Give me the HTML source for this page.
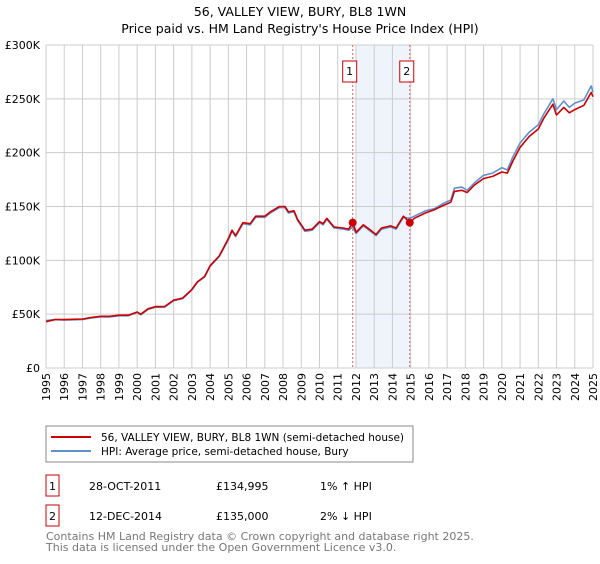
<!DOCTYPE html>
<html><head><meta charset="utf-8"><style>
body{margin:0;background:#fff;font-family:"DejaVu Sans","Liberation Sans",sans-serif;}
svg text{font-family:"DejaVu Sans","Liberation Sans",sans-serif;}
</style></head><body>
<svg id="chart" width="600" height="560" viewBox="0 0 600 560">
<text x="300" y="16" text-anchor="middle" font-size="12.5" fill="#000">56, VALLEY VIEW, BURY, BL8 1WN</text>
<text x="300" y="33" text-anchor="middle" font-size="12.5" fill="#000">Price paid vs. HM Land Registry's House Price Index (HPI)</text>
<g id="grid"></g>
<g id="series"></g>
<g id="legend">
<rect x="46" y="426" width="367" height="36" fill="#fff" stroke="#888"/>
<line x1="51" y1="437" x2="91" y2="437" stroke="#cc0000" stroke-width="2"/>
<text x="101" y="441" font-size="10.5">56, VALLEY VIEW, BURY, BL8 1WN (semi-detached house)</text>
<line x1="51" y1="451" x2="91" y2="451" stroke="#6090d0" stroke-width="2"/>
<text x="101" y="455" font-size="10.5">HPI: Average price, semi-detached house, Bury</text>
</g>
<g font-size="11">
<rect x="46" y="475" width="13" height="21" fill="#fff" stroke="#cc0000"/>
<text x="52.5" y="490" text-anchor="middle">1</text>
<text x="89" y="490">28-OCT-2011</text>
<text x="216" y="490">£134,995</text>
<text x="320" y="490">1% ↑ HPI</text>
<rect x="46" y="505" width="13" height="21" fill="#fff" stroke="#cc0000"/>
<text x="52.5" y="520" text-anchor="middle">2</text>
<text x="89" y="520">12-DEC-2014</text>
<text x="216" y="520">£135,000</text>
<text x="320" y="520">2% ↓ HPI</text>
</g>
<text x="46" y="540" font-size="11" fill="#777">Contains HM Land Registry data © Crown copyright and database right 2025.</text>
<text x="46" y="551" font-size="11" fill="#777">This data is licensed under the Open Government Licence v3.0.</text>
</svg>
<script>
const yTicks=[0,50,100,150,200,250,300];
const yTickLabels=["£0","£50K","£100K","£150K","£200K","£250K","£300K"];
const xYears=[1995,1996,1997,1998,1999,2000,2001,2002,2003,2004,2005,2006,2007,2008,2009,2010,2011,2012,2013,2014,2015,2016,2017,2018,2019,2020,2021,2022,2023,2024,2025];
const propDates=[1995.0,1995.5,1996,1997,1997.5,1998,1998.5,1999,1999.5,2000,2000.2,2000.6,2001,2001.5,2002,2002.5,2003,2003.3,2003.7,2004,2004.5,2005,2005.2,2005.4,2005.8,2006.2,2006.5,2007,2007.3,2007.8,2008.1,2008.3,2008.6,2008.8,2009.2,2009.6,2010,2010.2,2010.4,2010.8,2011.3,2011.6,2011.82,2012.0,2012.4,2012.8,2013.1,2013.4,2013.9,2014.2,2014.6,2014.95,2015.2,2015.8,2016.3,2016.8,2017.2,2017.4,2017.8,2018.1,2018.5,2019,2019.5,2020,2020.3,2020.6,2021,2021.5,2022,2022.3,2022.8,2023.0,2023.4,2023.7,2024,2024.5,2024.9,2025];
const propValues=[43,45,45,45.5,47,48,48,49,49,52,50,55,57,57,63,65,73,80,85,95,104,120,128,123,135,134,141,141,145,150,150,145,146,138,128,129,136,134,139,131,130,129,135,126,133,128,124,130,132,130,141,135,139,144,147,151,154,164,165,163,170,176,178,182,181,192,205,215,222,232,245,235,242,237,240,244,256,252];
const hpiValues=[44,45,44.5,45,46.5,47.5,47.5,48.5,48.5,51.5,49.5,54.5,56.5,56.5,62.5,64.5,72.5,79.5,84.5,94.5,103.5,119,127,122,134,133,140,140,144,149,149,144,145,137,127,128,135,133,138,130,129,128,131,125,132,127,123,129,131,129,140,139,141,146,148,153,156,167,168,165,172,179,181,186,184,196,209,219,226,236,250,240,248,242,246,249,262,256];
const sales=[{d:2011.82,v:134.995},{d:2014.95,v:135}];
const X0=46,X1=593,Y0=368,Y1=45;
const xs=y=>X0+(y-1995)/(2025-1995)*(X1-X0);
const ys=v=>Y0-v/300*(Y0-Y1);
const NS="http://www.w3.org/2000/svg";
function mk(tag,at,parent){const e=document.createElementNS(NS,tag);for(const k in at)e.setAttribute(k,at[k]);parent.appendChild(e);return e;}
const grid=document.getElementById('grid'),ser=document.getElementById('series');
const shade=mk('rect',{x:xs(sales[0].d)+3,y:Y1,width:xs(sales[1].d)-xs(sales[0].d)-3,height:Y0-Y1,fill:'#eef3fc'},grid);


xYears.forEach(yr=>{
 const l=mk('line',{x1:xs(yr),x2:xs(yr),y1:Y1,y2:Y0,stroke:'#ccc','stroke-width':1},grid);
 
 
 const t=mk('text',{x:0,y:0,'font-size':11,'text-anchor':'end',transform:`translate(${xs(yr)+4},${Y0+5}) rotate(-90)`},grid);
 t.textContent=yr;
 
 
});
yTicks.forEach((v,i)=>{
 const l=mk('line',{x1:X0,x2:X1,y1:ys(v),y2:ys(v),stroke:'#ccc','stroke-width':1},grid);
 
 
 const t=mk('text',{x:X0-6,y:ys(v)+4,'font-size':11,'text-anchor':'end'},grid);
 t.textContent=yTickLabels[i];
 
 
});
sales.forEach((s,i)=>{
 const l=mk('line',{x1:xs(s.d),x2:xs(s.d),y1:Y1,y2:Y0,stroke:'#e06060','stroke-width':1,'stroke-dasharray':'2,2'},grid);
 
 
 const r=mk('rect',{x:xs(s.d)-10,y:61,width:14,height:21,fill:'#fff',stroke:'#cc0000'},grid);
 
 
 const t=mk('text',{x:xs(s.d)-3,y:75,'font-size':11,'text-anchor':'middle'},grid);
 t.textContent=String(i+1);
 
 
});
function path(vals,color,name){
 const d=propDates.map((x,i)=>(i?'L':'M')+xs(x).toFixed(1)+','+ys(vals[i]).toFixed(1)).join('');
 const p=mk('path',{d:d,fill:'none',stroke:color,'stroke-width':1.6,'stroke-linejoin':'round'},ser);
 
 
}
path(hpiValues,'#6090d0','hpi-line');
path(propValues,'#cc0000','property-line');
sales.forEach(s=>{
 const c=mk('circle',{cx:xs(s.d),cy:ys(s.v),r:4,fill:'#cc0000'},ser);
 
 
});
</script>
</body></html>
